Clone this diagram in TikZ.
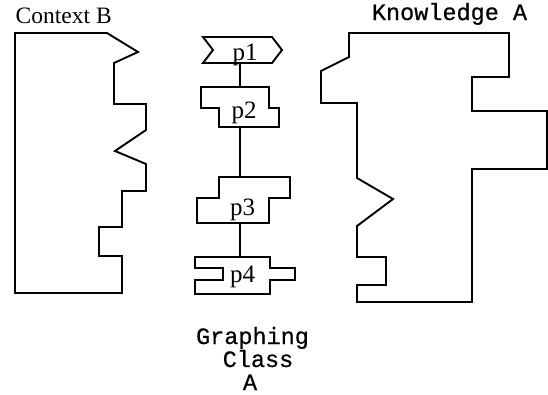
\documentclass[tikz,border=0pt]{standalone}
\usepackage{fontspec}
\setmainfont{Liberation Serif}
\setmonofont[FakeBold=0.6]{Liberation Mono}
\begin{document}
\begin{tikzpicture}[x=1pt,y=-1pt,
  outline/.style={draw=black,line width=1.9pt,line join=miter},
  link/.style={draw=black,line width=1.9pt},
  serlabel/.style={inner sep=0pt,anchor=base,font=\fontsize{25}{25}\selectfont},
  monolabel/.style={inner sep=0pt,anchor=base,font=\fontsize{23.5}{23.5}\selectfont\ttfamily}]
\useasboundingbox (0,0) rectangle (548,394);
% Context B
\draw[outline] (15,33) -- (107,33) -- (138,52) -- (114,63) -- (114,104) -- (146,104) -- (146,130)
  -- (115,151) -- (146,164) -- (146,191) -- (122,191) -- (122,227) -- (99,227) -- (99,256)
  -- (122,256) -- (122,293) -- (15,293) -- cycle;
\node[serlabel,anchor=base west,font=\fontsize{23.5}{23.5}\selectfont] (ctx) at (15.5,23) {Context B};
% Knowledge A
\draw[outline] (349,33) -- (509,33) -- (509,77) -- (472,77) -- (472,111) -- (547,111) -- (547,169)
  -- (472,169) -- (472,302) -- (357,302) -- (357,285) -- (386,285) -- (386,257) -- (357,257)
  -- (357,226) -- (393,199) -- (357,178) -- (357,103) -- (321,103) -- (321,71) -- (349,57) -- cycle;
\node[monolabel] (know) at (449.5,20) {Knowledge A};
% p shapes
\draw[outline] (203,37) -- (272,37) -- (282,50) -- (272,63) -- (203,63) -- (213,50) -- cycle;
\draw[outline] (201,87) -- (269,87) -- (269,108) -- (279,108) -- (279,127) -- (219,127) -- (219,108) -- (201,108) -- cycle;
\draw[outline] (219,177) -- (290,177) -- (290,198) -- (269,198) -- (269,223) -- (197,223) -- (197,198) -- (219,198) -- cycle;
\draw[outline] (195,257) -- (270,257) -- (270,268) -- (295,268) -- (295,280) -- (270,280) -- (270,294) -- (195,294) -- (195,280) -- (223,280) -- (223,268) -- (195,268) -- cycle;
\coordinate (p1b) at (240,63);
\coordinate (p2t) at (240,87);
\coordinate (p2b) at (240,127);
\coordinate (p3t) at (240,177);
\coordinate (p3b) at (240,223);
\coordinate (p4t) at (240,257);
\draw[link] (p1b) -- (p2t);
\draw[link] (p2b) -- (p3t);
\draw[link] (p3b) -- (p4t);
\node[serlabel] (p1) at (245,60) {p1};
\node[serlabel] (p2) at (244,118) {p2};
\node[serlabel] (p3) at (242.5,215) {p3};
\node[serlabel] (p4) at (242.5,282) {p4};
% bottom title
\node[monolabel] (g1) at (252.5,344) {Graphing};
\node[monolabel] (g2) at (258,367) {Class};
\node[monolabel] (g3) at (250,390) {A};
\end{tikzpicture}
\end{document}
